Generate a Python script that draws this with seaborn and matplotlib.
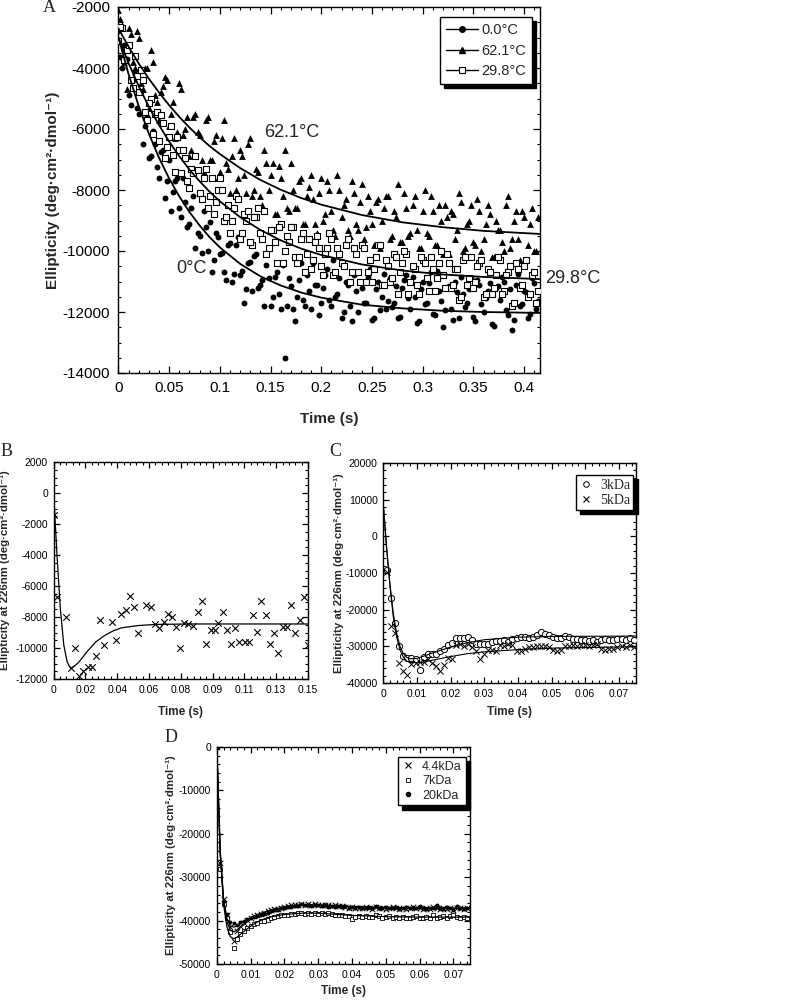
import numpy as np
import matplotlib
matplotlib.use("Agg")
import matplotlib.pyplot as plt
import seaborn as sns
from matplotlib.lines import Line2D
from matplotlib.ticker import MultipleLocator, FixedLocator, FixedFormatter, FormatStrFormatter

# ---------------- Panel A data ----------------
# samples at 0, 0.004, 0.008 ... and in-between samples at 0.002, 0.006, ...
time_a = np.round(np.arange(104) * 0.004, 3)
time_a_mid = np.round(time_a + 0.002, 3)
ell_0c = [-2800, -4000, -3700, -5200, -4200, -5500, -6500, -5600, -6900, -6500,
          -7600, -6700, -7700, -8700, -7700, -8600, -7600, -9200, -8600, -9900,
          -9500, -8700, -10000, -10700, -9400, -10100, -10700, -9800, -11000, -9800,
          -10800, -11700, -10400, -11300, -10100, -11100, -11800, -10900, -11500, -10700,
          -11900, -13500, -10900, -11900, -11500, -10400, -11800, -11300, -10400, -11100,
          -11700, -10800, -11600, -10300, -11400, -12200, -11000, -11800, -10800, -12000,
          -11200, -11700, -10600, -12200, -11000, -11500, -11900, -10900, -11700, -12200,
          -11200, -10800, -11900, -11500, -12300, -11000, -11700, -10700, -12100, -11300,
          -12500, -11200, -11900, -11000, -12200, -11400, -11700, -10900, -12300, -11100,
          -12000, -11300, -12400, -11200, -11600, -11000, -12100, -12600, -11100, -11800,
          -11300, -12200, -10900, -11900]
ell_0c_mid = [-3650, -3250, -4900, -4400, -5300, -4800, -5900, -6950, -6050, -7250,
              -6750, -8250, -7000, -8050, -7600, -8900, -8400, -9100, -8200, -9400,
              -10050, -9200, -9050, -10300, -9550, -10050, -10950, -9750, -10750, -9550,
              -10650, -11250, -10350, -10150, -11200, -10950, -10450, -11800, -10850, -11400,
              -10450, -11800, -11150, -12300, -10950, -11600, -10800, -11900, -11100, -12100,
              -11200, -10600, -11800, -11500, -10900, -12000, -11100, -12300, -11300, -11000,
              -11700, -10850, -12250, -11250, -11950, -10750, -11650, -11850, -11150, -12150,
              -10950, -11550, -10850, -12350, -11250, -11750, -11050, -12050, -10650, -11650,
              -11950, -11150, -12250, -11350, -10850, -11850, -11250, -12150, -10950, -11750,
              -11550, -11050, -12450, -11150, -10850, -11950, -11250, -12250, -10750, -11750,
              -11350, -12050, -11050, -11650]
ell_62c = [-2100, -2600, -4700, -2900, -4000, -3000, -4700, -4000, -3400, -4900,
           -5700, -4600, -4400, -5500, -6300, -4500, -6200, -5600, -6700, -5500,
           -6200, -7400, -5600, -7000, -6200, -7400, -5700, -7300, -6900, -8000,
           -6700, -7500, -6500, -8200, -7300, -8200, -6700, -8000, -7100, -8800,
           -7600, -6700, -8700, -8000, -8600, -7600, -9100, -7900, -8300, -9400,
           -7600, -8800, -8000, -9300, -7500, -8900, -8300, -9500, -8100, -9300,
           -7800, -9200, -8700, -9800, -8300, -9000, -8200, -9600, -8700, -7800,
           -9700, -8600, -9400, -8200, -9900, -8700, -9400, -8200, -9800, -8500,
           -10100, -8900, -8700, -9600, -8100, -10000, -9100, -8500, -9800, -8700,
           -9600, -8500, -10200, -9000, -9300, -10000, -8200, -9600, -8700, -10300,
           -8900, -9800, -8600, -10000]
ell_62c_mid = [-2400, -3800, -2700, -3800, -2800, -4500, -4000, -5300, -3800, -5100,
               -4800, -4300, -5900, -5100, -6100, -4700, -6000, -6900, -5600, -6100,
               -7000, -5700, -7000, -6400, -7600, -6300, -7100, -8100, -6300, -7600,
               -6900, -8100, -6300, -8000, -7400, -8500, -7100, -7500, -8800, -7200,
               -8200, -8600, -7100, -8600, -7700, -9100, -8200, -7500, -9100, -8100,
               -9000, -7700, -8700, -9500, -8000, -8500, -9300, -7700, -9100, -8400,
               -9600, -8200, -9100, -8400, -9900, -8600, -8200, -9500, -8900, -9700,
               -8100, -9500, -8500, -9300, -9900, -8000, -9500, -8700, -9800, -9000,
               -8500, -10100, -8800, -9300, -8400, -9900, -9000, -9700, -8300, -10000,
               -9100, -8800, -10200, -9300, -9700, -8500, -9900, -9000, -9600, -8700,
               -10300, -9100, -10000, -8900]
ell_30c = [-3100, -2700, -3400, -4400, -3600, -4800, -4400, -5700, -5000, -5500,
           -6400, -5800, -6600, -5900, -7400, -6700, -6700, -7700, -7300, -6900,
           -8100, -7600, -8600, -7600, -8400, -7600, -9000, -8500, -9000, -8200,
           -9600, -8800, -8700, -9800, -8900, -9400, -8700, -9900, -9300, -10400,
           -9100, -10000, -9700, -9200, -10400, -9600, -10700, -9600, -10300, -9500,
           -10500, -10100, -9400, -10800, -9900, -10400, -9800, -11000, -9900, -10700,
           -9800, -11000, -10300, -10600, -9800, -11100, -10300, -11000, -10100, -11400,
           -10400, -10100, -11000, -10600, -11400, -10300, -10900, -10200, -11300, -10400,
           -10800, -10100, -11200, -10600, -11600, -10300, -11100, -10200, -11000, -10400,
           -11500, -10600, -11400, -10800, -10300, -11300, -10700, -11800, -10400, -11200,
           -10500, -11500, -10800, -11700]
ell_30c_mid = [-2650, -3750, -3250, -4650, -4250, -4050, -5450, -5150, -6150, -5450,
               -5550, -6950, -6250, -6850, -6250, -7450, -6950, -7950, -7450, -7350,
               -8300, -7300, -8200, -8800, -8000, -8000, -8900, -9400, -8600, -8300,
               -9400, -9000, -9700, -8900, -8600, -9600, -10100, -9300, -9700, -9200,
               -10400, -9500, -9200, -10200, -10200, -9400, -10100, -10600, -9700, -9900,
               -10800, -9900, -9600, -10700, -10100, -10500, -9600, -10700, -10100, -11000,
               -9900, -10700, -11000, -10200, -9800, -11100, -10500, -10900, -10200, -10700,
               -10000, -11400, -10500, -11100, -10200, -10400, -11300, -10600, -10900, -10000,
               -11200, -10400, -11100, -10600, -11500, -10200, -10900, -11200, -10500, -10300,
               -11400, -10700, -11200, -10200, -11400, -10800, -10500, -11700, -10600, -11100,
               -10300, -11400, -10700, -11300]
fit_time_a = [0, 0.01, 0.02, 0.03, 0.04, 0.05, 0.06, 0.07, 0.08, 0.09, 0.10,
              0.12, 0.14, 0.16, 0.18, 0.20, 0.24, 0.28, 0.32, 0.36, 0.415]
fit_0c = [-3000, -4200, -5250, -6150, -6940, -7620, -8210, -8720, -9160, -9550, -9880,
          -10420, -10830, -11130, -11360, -11530, -11760, -11880, -11960, -12000, -12030]
fit_62c = [-2700, -3300, -3850, -4350, -4800, -5220, -5600, -5950, -6270, -6560, -6820,
           -7280, -7670, -7990, -8260, -8480, -8820, -9060, -9220, -9340, -9440]
fit_30c = [-3000, -3840, -4590, -5270, -5870, -6410, -6890, -7330, -7710, -8060, -8370,
           -8890, -9310, -9650, -9920, -10130, -10440, -10640, -10770, -10850, -10920]
legend_a = ["0.0°C", "62.1°C", "29.8°C"]

# ---------------- Panel B data ----------------
time_b = [0.0, 0.0022, 0.0072, 0.010, 0.0125, 0.015, 0.0175, 0.020, 0.0225, 0.025,
          0.0274, 0.030, 0.0345, 0.037, 0.0397, 0.0424, 0.0451, 0.0475, 0.050, 0.0547,
          0.0574, 0.0598, 0.0621, 0.0648, 0.0677, 0.070, 0.0724, 0.0748, 0.0771, 0.0795,
          0.0819, 0.085, 0.0874, 0.0898, 0.0929, 0.0953, 0.0971, 0.100, 0.1023, 0.1047,
          0.1071, 0.1094, 0.1126, 0.115, 0.1173, 0.1197, 0.1224, 0.1252, 0.1276, 0.130,
          0.1323, 0.1355, 0.1378, 0.1402, 0.1426, 0.145, 0.1476, 0.150]
ell_b = [-1400, -6700, -8000, -11300, -10000, -11800, -11500, -11200, -11200, -10500,
         -8200, -9800, -8300, -9500, -7800, -7550, -6630, -7330, -9000, -7230,
         -7330, -8470, -8730, -8300, -7830, -8020, -8650, -10020, -8370, -8450,
         -8560, -7650, -6970, -9740, -8840, -8840, -8370, -7700, -8840, -9740,
         -8730, -9630, -9630, -9630, -7870, -8950, -6970, -7870, -9740, -9010,
         -10350, -8620, -8660, -7230, -9010, -8190, -6690, -9800]
fit_time_b = [0, 0.002, 0.004, 0.006, 0.008, 0.010, 0.012, 0.015, 0.020, 0.025,
              0.030, 0.035, 0.040, 0.050, 0.060, 0.080, 0.150]
fit_b = [0, -4000, -7500, -9800, -10900, -11300, -11200, -10900, -10200, -9600,
         -9200, -8900, -8700, -8550, -8480, -8450, -8450]
b_xticks = [0, 0.01875, 0.0375, 0.05625, 0.075, 0.09375, 0.1125, 0.13125, 0.15]
b_xtick_labels = ["0", "0.02", "0.04", "0.06", "0.08", "0.09", "0.11", "0.13", "0.15"]

# ---------------- Panel C data ----------------
time_c = np.round(np.arange(1, 63) * 0.0012, 4)
ell_3kda = [-9300, -16700, -23600, -29900, -32600, -33100, -33200, -33500, -36400, -33000,
            -32100, -32000, -32000, -31200, -30700, -29600, -29200, -27800, -27600, -27700,
            -27400, -28400, -29400, -29500, -29400, -29500, -28800, -28500, -28600, -28400,
            -28800, -28000, -27600, -27400, -27500, -27600, -27400, -26900, -26200, -26600,
            -27000, -27500, -27800, -27600, -27100, -27500, -28000, -28000, -28200, -28400,
            -28500, -28300, -28900, -28200, -28000, -28300, -28200, -27900, -28100, -28400,
            -27800, -28300]
ell_5kda = [-9800, -24400, -26300, -34500, -36700, -37900, -34800, -34500, -34300, -34200,
            -33400, -34600, -35300, -36700, -35000, -33200, -33500, -29600, -29300, -29900,
            -29400, -30200, -31200, -33400, -32100, -31000, -31000, -31200, -29700, -30000,
            -29400, -29700, -31200, -31200, -30800, -30300, -30100, -30000, -29800, -30000,
            -30300, -31000, -31200, -31000, -29800, -30000, -29700, -29900, -29600, -29700,
            -30000, -29600, -29400, -30800, -31000, -30800, -30600, -30200, -29800, -30200,
            -29700, -30100]
fit_time_c = [0, 0.001, 0.002, 0.003, 0.004, 0.005, 0.006, 0.007, 0.008, 0.010, 0.012,
              0.015, 0.020, 0.025, 0.030, 0.040, 0.050, 0.075]
fit_3kda = [9000, -3000, -13000, -21000, -26500, -30000, -32000, -33000, -33400, -33300,
            -32700, -31700, -30200, -29000, -28200, -27500, -27300, -27200]
fit_5kda = [9000, -3000, -13500, -22000, -27500, -31000, -33000, -34000, -34400, -34500,
            -34300, -33700, -32800, -32000, -31500, -30900, -30500, -30100]
legend_c = ["3kDa", "5kDa"]

# ---------------- Panel D data ----------------
time_d = np.round(np.arange(75) * 0.001, 3)
ell_4kda = [0, -26800, -35000, -38800, -41500, -44800, -42500, -41300, -40500, -39800,
            -39300, -39000, -38800, -38500, -38200, -37800, -37600, -37400, -37300, -37000,
            -36800, -36700, -36500, -36400, -36300, -36200, -36300, -36100, -36300, -36200,
            -36400, -36300, -36500, -36400, -36600, -36500, -36700, -36600, -36800, -37000,
            -36800, -37100, -37000, -37200, -36900, -37100, -37300, -36900, -37200, -37000,
            -37300, -37100, -36900, -37200, -37400, -37000, -37300, -37100, -36900, -37200,
            -37000, -37300, -37100, -37400, -36900, -37200, -37400, -37000, -37300, -37100,
            -37500, -37200, -37000, -37400, -37200]
ell_7kda = [0, -28000, -36200, -39500, -42600, -46300, -44300, -43000, -42300, -41800,
            -41200, -40800, -40500, -40200, -40000, -39800, -39400, -39200, -39000, -38800,
            -38700, -38700, -38500, -38400, -38300, -38200, -38500, -38300, -38400, -38300,
            -38500, -38300, -38400, -38200, -38500, -38600, -38800, -38700, -38900, -39000,
            -39600, -39100, -38900, -39100, -39000, -39200, -39100, -38800, -39000, -39300,
            -39100, -39000, -39300, -39200, -39400, -39100, -39300, -39500, -39200, -39000,
            -39300, -39400, -39100, -39500, -38800, -39300, -39100, -38900, -39300, -39000,
            -38800, -39200, -39400, -39100, -39300]
ell_20kda = [0, -27000, -35500, -38500, -40300, -40600, -41000, -40300, -40200, -39700,
             -39400, -39200, -38900, -38700, -38500, -38200, -37800, -37500, -37500, -37200,
             -37100, -36900, -36800, -36600, -36700, -36100, -36500, -36400, -36600, -36300,
             -36500, -36700, -36400, -36800, -36600, -36900, -36700, -36800, -36600, -37000,
             -36900, -37100, -36800, -37000, -37200, -36900, -37000, -36600, -37100, -37000,
             -36800, -37200, -37000, -36900, -37300, -37100, -36800, -37000, -37200, -37000,
             -36700, -37100, -37300, -37000, -37200, -36500, -37000, -37400, -36900, -37200,
             -37500, -36600, -37100, -37300, -37000]
fit_time_d = [0, 0.001, 0.002, 0.003, 0.004, 0.005, 0.006, 0.008, 0.010, 0.012, 0.015,
              0.020, 0.025, 0.030, 0.040, 0.050, 0.060, 0.075]
fit_4kda = [0, -24000, -35300, -40300, -42200, -42600, -42200, -40900, -39700, -38800,
            -37800, -36800, -36400, -36400, -36800, -37100, -37200, -37200]
fit_7kda = [0, -24500, -36300, -41500, -43700, -44200, -43800, -42500, -41300, -40300,
            -39300, -38600, -38300, -38300, -38800, -39100, -39200, -39200]
fit_20kda = [0, -24000, -35000, -39500, -41200, -41500, -41200, -40200, -39300, -38600,
             -37800, -36900, -36500, -36500, -36800, -37000, -37100, -37100]
legend_d = ["4.4kDa", "7kDa", "20kDa"]

# ---------------- style ----------------
sns.set_style("ticks")
plt.rcParams['font.family'] = ['Liberation Sans', 'DejaVu Sans']
plt.rcParams['axes.unicode_minus'] = False
plt.rcParams['axes.linewidth'] = 1.0

fig = plt.figure(figsize=(8, 10), dpi=100)
ax_a = fig.add_axes([0.148, 0.627, 0.527, 0.366])
ax_b = fig.add_axes([0.067, 0.321, 0.318, 0.217])
ax_c = fig.add_axes([0.479, 0.317, 0.316, 0.220])
ax_d = fig.add_axes([0.271, 0.036, 0.317, 0.217])

SHADOW = {'color': 'black', 'alpha': 1.0, 'ox': 3, 'oy': -3}


def style_axes(ax, fs):
    for sp in ax.spines.values():
        sp.set_visible(True)
        sp.set_color('black')
        sp.set_linewidth(1.0)
    ax.tick_params(which='both', direction='in', top=True, right=True,
                   labelsize=fs, colors='black')
    ax.tick_params(which='major', length=5, width=0.9, pad=6)
    ax.tick_params(which='minor', length=2.5, width=0.8)


def fit_line(ax, x, y, lw=1.1):
    sns.lineplot(x=x, y=y, ax=ax, color='black', linewidth=lw,
                 estimator=None, sort=False, legend=False, zorder=4)


YLAB_SMALL = "Ellipticity at 226nm (deg·cm²·dmol⁻¹)"

# ---------------- Panel A ----------------
t_all = np.concatenate([time_a, time_a_mid])
sns.scatterplot(x=t_all, y=ell_0c + ell_0c_mid, ax=ax_a, marker='o', s=18,
                color='black', edgecolor='black', linewidth=0, zorder=3)
sns.scatterplot(x=t_all, y=ell_62c + ell_62c_mid, ax=ax_a, marker='^', s=24,
                color='black', edgecolor='black', linewidth=0, zorder=3)
sns.scatterplot(x=t_all, y=ell_30c + ell_30c_mid, ax=ax_a, marker='s', s=16,
                color='white', edgecolor='black', linewidth=0.8, zorder=3)
fit_line(ax_a, fit_time_a, fit_0c, 1.3)
fit_line(ax_a, fit_time_a, fit_62c, 1.3)
fit_line(ax_a, fit_time_a, fit_30c, 1.3)
ax_a.set_xlim(0, 0.4157)
ax_a.set_ylim(-14000, -2000)
ax_a.xaxis.set_major_locator(MultipleLocator(0.05))
ax_a.xaxis.set_minor_locator(MultipleLocator(0.01))
ax_a.yaxis.set_major_locator(MultipleLocator(2000))
ax_a.yaxis.set_minor_locator(MultipleLocator(500))
ax_a.xaxis.set_major_formatter(FormatStrFormatter('%g'))
ax_a.yaxis.set_major_formatter(FormatStrFormatter('%d'))
style_axes(ax_a, 11)
ax_a.set_xlabel("Time (s)", fontsize=11, fontweight='bold')
ax_a.set_ylabel("Ellipticity (deg·cm²·dmol⁻¹)", fontsize=11, fontweight='bold')
ax_a.xaxis.set_label_coords(0.5, -0.107)
ax_a.yaxis.set_label_coords(-0.139, 0.5)
ax_a.text(0.1433, -6130, "62.1°C", fontsize=13, ha='left', va='center')
ax_a.text(0.0567, -10560, "0°C", fontsize=13, ha='left', va='center')
ax_a.text(0.4205, -10890, "29.8°C", fontsize=13, ha='left', va='center', clip_on=False)
handles_a = [Line2D([0], [0], color='black', lw=1, marker='o', ms=4, label=legend_a[0]),
             Line2D([0], [0], color='black', lw=1, marker='^', ms=5, label=legend_a[1]),
             Line2D([0], [0], color='black', lw=1, marker='s', ms=4, mfc='white',
                    mew=0.8, label=legend_a[2])]
leg = ax_a.legend(handles=handles_a, loc='upper right', bbox_to_anchor=(0.981, 0.972),
                  fontsize=10.5, frameon=True, fancybox=False, edgecolor='black',
                  framealpha=1, shadow=SHADOW, handlelength=2.2, borderpad=0.4,
                  labelspacing=0.45, handletextpad=0.25, borderaxespad=0)
leg.get_frame().set_linewidth(1.0)
leg.set_zorder(10)

# ---------------- Panel B ----------------
sns.scatterplot(x=time_b, y=ell_b, ax=ax_b, marker='x', s=22, color='black',
                linewidth=0.8, zorder=3)
fit_line(ax_b, fit_time_b, fit_b, 0.9)
ax_b.set_xlim(0, 0.15)
ax_b.set_ylim(-12000, 2000)
ax_b.xaxis.set_major_locator(FixedLocator(b_xticks))
ax_b.xaxis.set_major_formatter(FixedFormatter(b_xtick_labels))
ax_b.xaxis.set_minor_locator(MultipleLocator(0.15 / 40))
ax_b.yaxis.set_major_locator(MultipleLocator(2000))
ax_b.yaxis.set_minor_locator(MultipleLocator(500))
ax_b.yaxis.set_major_formatter(FormatStrFormatter('%d'))
style_axes(ax_b, 7.5)
ax_b.tick_params(which='major', length=4, pad=4)
ax_b.tick_params(which='minor', length=2)
ax_b.set_xlabel("Time (s)", fontsize=8.5, fontweight='bold')
ax_b.set_ylabel(YLAB_SMALL, fontsize=8.2, fontweight='bold')
ax_b.xaxis.set_label_coords(0.5, -0.124)
ax_b.yaxis.set_label_coords(-0.171, 0.5)

# ---------------- Panel C ----------------
sns.scatterplot(x=time_c, y=ell_3kda, ax=ax_c, marker='o', s=20, color='white',
                edgecolor='black', linewidth=0.7, zorder=3)
sns.scatterplot(x=time_c, y=ell_5kda, ax=ax_c, marker='x', s=20, color='black',
                linewidth=0.7, zorder=3)
fit_line(ax_c, fit_time_c, fit_3kda, 0.8)
fit_line(ax_c, fit_time_c, fit_5kda, 0.8)
ax_c.set_xlim(0, 0.0751)
ax_c.set_ylim(-40000, 20000)
ax_c.xaxis.set_major_locator(MultipleLocator(0.01))
ax_c.xaxis.set_minor_locator(MultipleLocator(0.002))
ax_c.yaxis.set_major_locator(MultipleLocator(10000))
ax_c.yaxis.set_minor_locator(MultipleLocator(2000))
ax_c.xaxis.set_major_formatter(FormatStrFormatter('%g'))
ax_c.yaxis.set_major_formatter(FormatStrFormatter('%d'))
style_axes(ax_c, 7.5)
ax_c.tick_params(which='major', length=4, pad=4)
ax_c.tick_params(which='minor', length=2)
ax_c.set_xlabel("Time (s)", fontsize=8.5, fontweight='bold')
ax_c.set_ylabel(YLAB_SMALL, fontsize=8.2, fontweight='bold')
ax_c.xaxis.set_label_coords(0.5, -0.105)
ax_c.yaxis.set_label_coords(-0.155, 0.5)
handles_c = [Line2D([0], [0], ls='none', marker='o', ms=4, mfc='white', mec='black',
                    mew=0.7, label=legend_c[0]),
             Line2D([0], [0], ls='none', marker='x', ms=4, color='black', mew=0.8,
                    label=legend_c[1])]
leg_c = ax_c.legend(handles=handles_c, loc='upper right', bbox_to_anchor=(0.99, 0.945),
                    frameon=True, fancybox=False, edgecolor='black', framealpha=1,
                    shadow=SHADOW, handlelength=1.0, borderpad=0.25, labelspacing=0.15,
                    handletextpad=0.5, borderaxespad=0,
                    prop={'family': ['Liberation Serif'], 'size': 10})
leg_c.get_frame().set_linewidth(1.0)

# ---------------- Panel D ----------------
sns.scatterplot(x=time_d, y=ell_4kda, ax=ax_d, marker='x', s=16, color='black',
                linewidth=0.7, zorder=3)
sns.scatterplot(x=time_d, y=ell_7kda, ax=ax_d, marker='s', s=10, color='white',
                edgecolor='black', linewidth=0.6, zorder=3)
sns.scatterplot(x=time_d, y=ell_20kda, ax=ax_d, marker='o', s=8, color='black',
                edgecolor='black', linewidth=0, zorder=3)
fit_line(ax_d, fit_time_d, fit_4kda, 0.9)
fit_line(ax_d, fit_time_d, fit_7kda, 0.9)
fit_line(ax_d, fit_time_d, fit_20kda, 0.9)
ax_d.set_xlim(0, 0.075)
ax_d.set_ylim(-50000, 0)
ax_d.xaxis.set_major_locator(MultipleLocator(0.01))
ax_d.xaxis.set_minor_locator(MultipleLocator(0.002))
ax_d.yaxis.set_major_locator(MultipleLocator(10000))
ax_d.yaxis.set_minor_locator(MultipleLocator(2000))
ax_d.xaxis.set_major_formatter(FormatStrFormatter('%g'))
ax_d.yaxis.set_major_formatter(FormatStrFormatter('%d'))
style_axes(ax_d, 7.5)
ax_d.tick_params(which='major', length=4, pad=4)
ax_d.tick_params(which='minor', length=2)
ax_d.set_xlabel("Time (s)", fontsize=8.5, fontweight='bold')
ax_d.set_ylabel(YLAB_SMALL, fontsize=8.2, fontweight='bold')
ax_d.xaxis.set_label_coords(0.5, -0.097)
ax_d.yaxis.set_label_coords(-0.161, 0.5)
handles_d = [Line2D([0], [0], ls='none', marker='x', ms=4, color='black', mew=0.8,
                    label=legend_d[0]),
             Line2D([0], [0], ls='none', marker='s', ms=3.5, mfc='white', mec='black',
                    mew=0.6, label=legend_d[1]),
             Line2D([0], [0], ls='none', marker='o', ms=3, color='black', label=legend_d[2])]
leg_d = ax_d.legend(handles=handles_d, loc='upper right', bbox_to_anchor=(0.981, 0.954),
                    frameon=True, fancybox=False, edgecolor='black', framealpha=1,
                    shadow=SHADOW, handlelength=1.0, borderpad=0.3, labelspacing=0.2,
                    handletextpad=0.6, borderaxespad=0, fontsize=9)
leg_d.get_frame().set_linewidth(1.0)

# ---------------- panel letters ----------------
for lbl, x, y in [("A", 0.062, 0.993), ("B", 0.008, 0.548), ("C", 0.419, 0.548),
                  ("D", 0.214, 0.263)]:
    fig.text(x, y, lbl, fontsize=13, ha='center', va='center',
             family=['Liberation Serif'])

fig.savefig("out.png", dpi=100, facecolor='white')
